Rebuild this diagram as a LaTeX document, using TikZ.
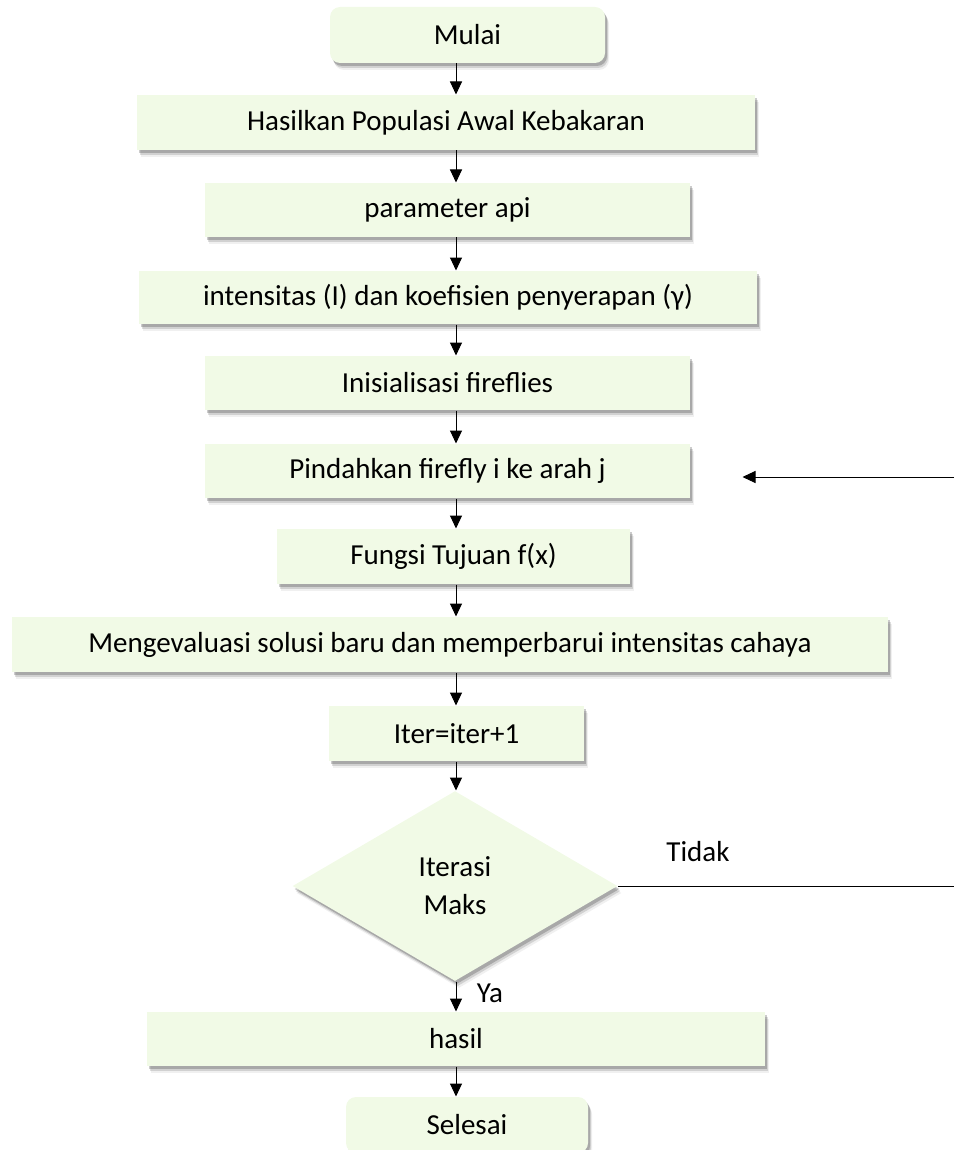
\documentclass[tikz,border=0pt]{standalone}
\usepackage{fontspec}
\setmainfont{Carlito}
\usetikzlibrary{arrows.meta,shapes.geometric,shadows}

\definecolor{boxgreen}{RGB}{241,250,230}

\begin{document}
\begin{tikzpicture}[x=1pt,y=-1pt,->,>={Triangle[width=12pt,length=13pt]},
  line width=1pt,
  soft shadow/.style={
    drop shadow={shadow xshift=2pt,shadow yshift=-3pt,opacity=.2,fill=black},
    drop shadow={shadow xshift=3pt,shadow yshift=-5pt,opacity=.13,fill=black},
    drop shadow={shadow xshift=4pt,shadow yshift=-7pt,opacity=.06,fill=black}},
  proc box/.style={rectangle,fill=boxgreen,inner sep=0pt,soft shadow,
    font=\fontsize{29}{38}\selectfont},
  end box/.style={proc box,rounded corners=10pt},
  test box/.style={diamond,fill=boxgreen,inner sep=0pt,align=center,
    soft shadow,font=\fontsize{29}{38}\selectfont},
  label text/.style={font=\fontsize{29}{38}\selectfont}]

  \useasboundingbox (0,0) rectangle (954,1150);

  \node[end box,minimum width=275pt,minimum height=56pt] (mulai) at (467.5,35) {Mulai};
  \node[proc box,minimum width=618pt,minimum height=55pt] (hasilkan) at (446,122.5) {Hasilkan Populasi Awal Kebakaran};
  \node[proc box,minimum width=485pt,minimum height=54pt] (param) at (447.5,210) {parameter api};
  \node[proc box,minimum width=618pt,minimum height=53pt] (intens) at (448,297.5) {intensitas (I) dan koefisien penyerapan (γ)};
  \node[proc box,minimum width=485pt,minimum height=54pt] (inisial) at (447.5,383) {Inisialisasi fireflies};
  \node[proc box,minimum width=485pt,minimum height=54pt] (pindah) at (447.5,471) {Pindahkan firefly i ke arah j};
  \node[proc box,minimum width=353pt,minimum height=55pt] (fungsi) at (453.5,556.5) {Fungsi Tujuan f(x)};
  \node[proc box,minimum width=876pt,minimum height=55pt] (evaluasi) at (450,644.5) {Mengevaluasi solusi baru dan memperbarui intensitas cahaya};
  \node[proc box,minimum width=255pt,minimum height=55pt] (iter) at (456.5,733.5) {Iter=iter+1};
  \node[test box,minimum width=325pt,minimum height=190pt] (maks) at (455,886) {Iterasi\\Maks};
  \node[proc box,minimum width=618pt,minimum height=54pt] (hasil) at (456,1039) {hasil};
  \node[end box,minimum width=242pt,minimum height=56pt] (selesai) at (467,1125) {Selesai};

  \node[label text] (ya) at (490,993) {Ya};
  \node[label text] (tidak) at (698,852) {Tidak};

  % main flow runs down this line
  \coordinate (axis) at (456,0);
  % loop back from the test, cut at the right edge
  \coordinate (loop low) at (954,886);
  \coordinate (loop high) at (954,477);

  \path
    %Main flow, top to bottom%
    (mulai.south -| axis) edge (hasilkan.north -| axis)
    (hasilkan.south -| axis) edge (param.north -| axis)
    (param.south -| axis) edge (intens.north -| axis)
    (intens.south -| axis) edge (inisial.north -| axis)
    (inisial.south -| axis) edge (pindah.north -| axis)
    (pindah.south -| axis) edge (fungsi.north -| axis)
    (fungsi.south -| axis) edge (evaluasi.north -| axis)
    (evaluasi.south -| axis) edge (iter.north -| axis)
    (iter.south -| axis) edge (maks.north -| axis)
    %Ya branch%
    (maks.south -| axis) edge (hasil.north -| axis)
    (hasil.south -| axis) edge (selesai.north -| axis)
    %Tidak branch, back to Pindahkan%
    (maks.east) edge[-] (loop low)
    (loop high) edge[shorten >=52pt] (loop high -| pindah.east);

\end{tikzpicture}
\end{document}
